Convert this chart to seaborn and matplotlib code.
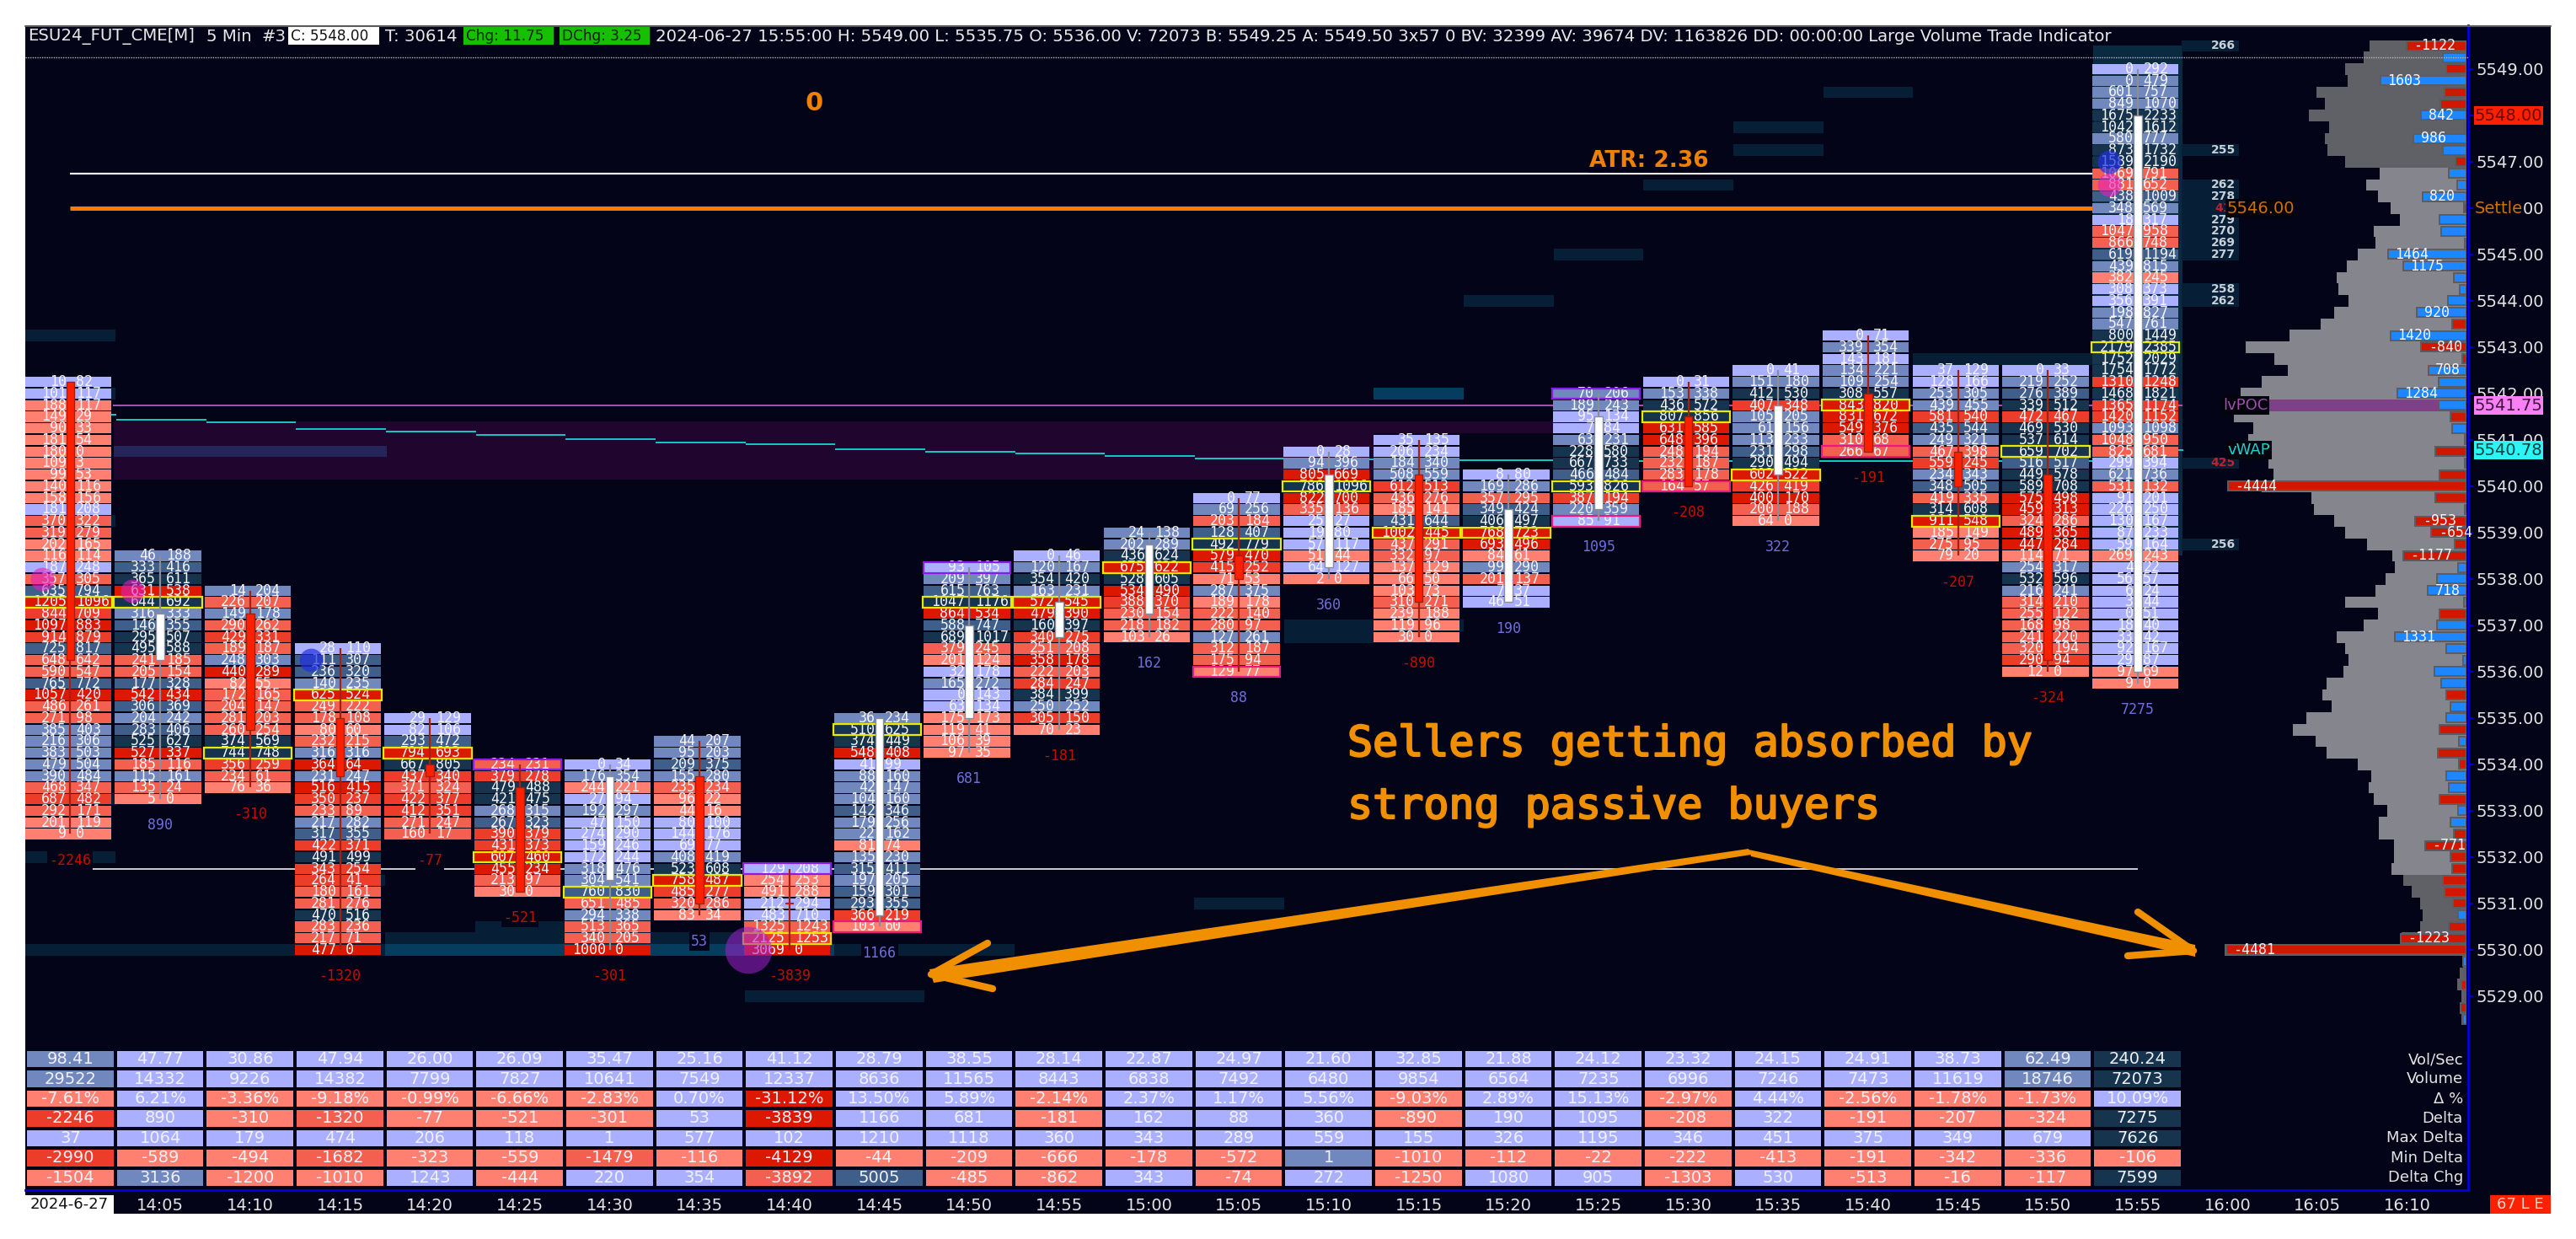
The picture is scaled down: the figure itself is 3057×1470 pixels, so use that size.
import bisect

import matplotlib
matplotlib.use("Agg")
import matplotlib.patheffects as pe
import matplotlib.pyplot as plt
import pandas as pd
import seaborn as sns
from matplotlib.colors import ListedColormap
from matplotlib.patches import Polygon

sns.set_theme(style="white")
plt.rcParams["font.family"] = ["DejaVu Sans"]
plt.rcParams["patch.force_edgecolor"] = False
plt.rcParams["patch.linewidth"] = 0

W, H = 3057, 1470
BG = "#040418"
MONO = "DejaVu Sans Mono"

# time axis
time_labels = ["14:00", "14:05", "14:10", "14:15", "14:20", "14:25", "14:30", "14:35", "14:40", "14:45",
               "14:50", "14:55", "15:00", "15:05", "15:10", "15:15", "15:20", "15:25", "15:30", "15:35",
               "15:40", "15:45", "15:50", "15:55", "16:00", "16:05", "16:10"]

# footprint: highest price of each bar, then bid / ask from the top row down
bar_high = [5542.25, 5538.5, 5537.75, 5536.5, 5535.0, 5534.0, 5534.0, 5534.5, 5531.75, 5535.0, 5538.25, 5538.5,
            5539.0, 5539.75, 5540.75, 5541.0, 5540.25, 5542.0, 5542.25, 5542.5, 5543.25, 5542.5, 5542.5, 5549.0]
bar_open = [5542.25, 5536.25, 5537.25, 5535.0, 5534.0, 5533.5, 5531.5, 5533.75, 5531.0, 5530.75, 5535.0, 5536.75,
            5537.25, 5538.5, 5538.25, 5540.25, 5537.5, 5539.5, 5541.5, 5540.25, 5542.0, 5540.75, 5540.25, 5536.0]
bar_close = [5536.25, 5537.25, 5534.75, 5533.75, 5533.75, 5531.25, 5533.75, 5531.0, 5531.0, 5535.0, 5537.0, 5537.5,
             5538.75, 5538.0, 5540.25, 5537.5, 5539.5, 5541.5, 5540.0, 5541.75, 5540.75, 5540.0, 5536.25, 5548.0]

bid_volume = [
    [10, 101, 188, 149, 90, 181, 180, 109, 99, 140, 158, 181, 370, 319, 202, 116, 187, 357, 635, 1205, 844, 1097, 914, 725, 648, 590, 765, 1057, 486, 271, 385, 216, 383, 479, 390, 468, 687, 292, 201, 9],
    [46, 333, 365, 631, 644, 316, 146, 295, 495, 241, 205, 177, 542, 306, 204, 283, 525, 527, 185, 115, 135, 5],
    [14, 226, 149, 290, 429, 189, 248, 440, 82, 172, 204, 281, 260, 374, 744, 356, 234, 76],
    [28, 111, 236, 140, 625, 249, 178, 80, 232, 316, 364, 231, 516, 350, 233, 217, 317, 422, 491, 343, 264, 180, 281, 470, 283, 217, 477],
    [29, 82, 293, 794, 667, 437, 371, 422, 412, 271, 160],
    [234, 379, 479, 421, 268, 267, 390, 431, 607, 455, 213, 30],
    [0, 176, 244, 27, 192, 47, 274, 159, 172, 318, 304, 760, 651, 294, 513, 340, 1000],
    [44, 95, 209, 155, 235, 96, 44, 80, 144, 69, 408, 523, 758, 485, 320, 83],
    [129, 254, 491, 212, 483, 1325, 2125, 3069],
    [36, 510, 374, 548, 41, 88, 42, 104, 142, 179, 22, 81, 135, 315, 197, 159, 293, 366, 103],
    [93, 209, 615, 1047, 864, 588, 689, 379, 201, 32, 165, 0, 63, 175, 119, 106, 97],
    [0, 120, 354, 163, 572, 479, 160, 340, 251, 358, 222, 284, 384, 250, 305, 70],
    [24, 202, 436, 675, 528, 534, 388, 230, 218, 103],
    [0, 69, 203, 128, 492, 579, 415, 71, 287, 189, 222, 280, 127, 312, 175, 129],
    [0, 94, 805, 786, 822, 335, 25, 19, 57, 51, 64, 2],
    [35, 206, 184, 508, 612, 436, 185, 431, 1002, 437, 332, 137, 66, 103, 310, 239, 119, 30],
    [8, 169, 357, 349, 406, 768, 693, 84, 99, 201, 7, 46],
    [70, 189, 95, 7, 63, 228, 667, 466, 593, 387, 220, 85],
    [0, 153, 436, 807, 631, 648, 248, 232, 283, 164],
    [0, 151, 412, 407, 105, 61, 113, 231, 290, 602, 426, 400, 200, 64],
    [0, 339, 143, 134, 109, 308, 843, 831, 549, 310, 266],
    [37, 128, 253, 439, 581, 435, 249, 467, 559, 234, 348, 419, 314, 911, 185, 275, 79],
    [0, 219, 276, 339, 472, 469, 537, 659, 516, 449, 589, 575, 459, 324, 489, 447, 114, 254, 532, 216, 314, 255, 168, 241, 320, 290, 12],
    [0, 0, 601, 849, 1675, 1042, 580, 873, 1589, 1069, 881, 438, 348, 18, 1047, 866, 619, 439, 382, 308, 356, 198, 547, 800, 2179, 1752, 1754, 1310, 1468, 1365, 1420, 1093, 1048, 825, 299, 621, 531, 91, 226, 130, 87, 59, 269, 4, 56, 6, 3, 0, 18, 33, 92, 29, 97, 9],
]
ask_volume = [
    [82, 117, 117, 29, 33, 54, 0, 3, 53, 116, 156, 208, 322, 279, 165, 114, 248, 305, 794, 1096, 709, 883, 879, 817, 642, 547, 772, 420, 261, 98, 403, 306, 503, 504, 484, 347, 482, 171, 119, 0],
    [188, 416, 611, 538, 692, 333, 355, 507, 588, 185, 154, 328, 434, 369, 242, 406, 627, 337, 116, 161, 24, 0],
    [204, 207, 178, 262, 331, 187, 303, 289, 55, 165, 147, 203, 254, 569, 748, 259, 61, 36],
    [110, 307, 320, 235, 524, 222, 108, 60, 215, 316, 64, 247, 415, 237, 89, 282, 355, 371, 499, 254, 41, 161, 276, 516, 236, 71, 0],
    [129, 106, 472, 693, 805, 340, 324, 377, 351, 247, 17],
    [231, 278, 488, 475, 315, 323, 379, 373, 460, 234, 97, 0],
    [34, 354, 221, 94, 297, 150, 290, 246, 244, 476, 541, 830, 485, 338, 365, 205, 0],
    [207, 203, 375, 280, 234, 22, 16, 100, 176, 77, 419, 608, 487, 277, 286, 34],
    [208, 253, 288, 294, 710, 1243, 1253, 0],
    [234, 625, 449, 408, 99, 160, 147, 160, 346, 256, 162, 74, 230, 411, 205, 301, 355, 219, 60],
    [105, 397, 763, 1176, 534, 747, 1017, 245, 124, 178, 272, 143, 134, 173, 41, 39, 35],
    [46, 167, 420, 231, 545, 390, 397, 275, 208, 178, 203, 247, 399, 252, 150, 23],
    [138, 289, 624, 622, 605, 490, 370, 154, 182, 26],
    [77, 256, 184, 407, 779, 470, 252, 53, 375, 178, 140, 97, 261, 187, 94, 77],
    [28, 396, 669, 1096, 700, 136, 27, 80, 117, 44, 127, 0],
    [135, 234, 340, 559, 513, 276, 141, 644, 445, 291, 97, 129, 50, 73, 271, 188, 96, 0],
    [80, 286, 295, 424, 497, 723, 496, 61, 290, 137, 37, 51],
    [206, 243, 134, 84, 231, 580, 733, 484, 826, 194, 359, 91],
    [31, 338, 572, 856, 585, 396, 194, 187, 178, 57],
    [41, 180, 530, 348, 205, 156, 233, 298, 494, 522, 419, 170, 188, 0],
    [71, 354, 181, 221, 254, 557, 820, 672, 376, 68, 67],
    [129, 166, 305, 455, 540, 544, 321, 398, 245, 343, 505, 335, 608, 548, 149, 95, 20],
    [33, 252, 389, 512, 467, 530, 614, 702, 517, 578, 708, 498, 313, 286, 365, 284, 71, 317, 596, 241, 210, 122, 98, 220, 194, 94, 0],
    [292, 479, 757, 1070, 2233, 1612, 777, 1732, 2190, 791, 652, 1009, 569, 317, 958, 748, 1194, 815, 245, 373, 391, 827, 761, 1449, 2385, 2029, 1772, 1248, 1821, 1174, 1152, 1098, 950, 681, 394, 736, 132, 201, 250, 167, 233, 164, 243, 22, 57, 24, 44, 51, 40, 42, 167, 87, 69, 0],
]
high_box_bars = [5, 8, 10, 17]
low_box_bars = [9, 13, 17, 18, 20]

# lines
atr_price = 5546.75
settle_price = 5546.0
lower_price = 5531.75
lvpoc_price = 5541.75
vwap_price = [5541.55, 5541.44, 5541.38, 5541.24, 5541.18, 5541.1, 5541.02, 5540.95, 5540.9, 5540.8, 5540.75, 5540.7,
              5540.65, 5540.6, 5540.58, 5540.56, 5540.56, 5540.55, 5540.55, 5540.55, 5540.55, 5540.55, 5540.55, 5540.78]

# large volume heat rows: first bar, last bar, price, strength
heat_first = [0, 0, 0, 0, 0, 3, 5, 4, 0, 4, 9, 8, 13, 14, 14, 15, 16, 17, 18, 19, 19, 20, 21]
heat_last = [0, 0, 0, 0, 0, 3, 5, 7, 3, 8, 10, 9, 13, 14, 15, 15, 16, 17, 18, 19, 19, 20, 22]
heat_price = [5543.25, 5542.0, 5539.25, 5533.25, 5532.0, 5531.5, 5530.5, 5530.25, 5530.0, 5530.0, 5530.0, 5529.0, 5531.0,
              5536.75, 5537.0, 5542.0, 5544.0, 5545.0, 5546.5, 5547.75, 5547.25, 5548.5, 5542.75]
heat_level = [0, 0, 0, 0, 0, 0, 0, 0, 0, 1, 0, 0, 0, 0, 0, 1, 0, 0, 0, 0, 0, 0, 0]

# numbers to the right of the last bar
side_price = [5549.5, 5547.25, 5546.5, 5546.25, 5546.0, 5545.75, 5545.5, 5545.25, 5545.0, 5544.25, 5544.0, 5540.5, 5538.75]
side_value = [266, 255, 262, 278, 41, 279, 270, 269, 277, 258, 262, 425, 256]
side_sell = [41, 425]

# bubbles
pink_x = [-0.31, 0.69, 22.68]
pink_price = [5538.0, 5537.75, 5546.5]
blue_x = [2.68, 22.68]
blue_price = [5536.25, 5547.0]
purple_x = [7.54]
purple_price = [5530.0]

# volume profile, from 5549.50 down in quarter points
profile_top = 5549.5
profile_vol = [2960, 3160, 3730, 3650, 4610, 4330, 4820, 4220, 4330, 4260, 3730,
               2670, 3080, 2720, 2320, 2030, 2830, 2800, 3330, 3680, 3980, 3930, 3610, 4060, 4460, 5430, 6770, 5880, 5480, 6280, 6930,
               7430, 7130, 6530, 6700, 6080, 6080, 5920, 6280, 4750, 4680, 4060, 3730, 3050, 2270, 2200, 2480, 2800, 3730, 2720, 3160,
               3980, 3730, 3620, 3770, 4300, 4420, 4130, 4910, 5320, 4620, 4300, 3330, 2930, 3000, 2840, 2430, 2680, 2680, 2230, 2230, 2310,
               1950, 1670, 1420, 1340, 1420, 1980, 7410, 110, 210, 280, 150, 200, 150]
profile_delta = [-1122, 444, -371, 1603, -401, -492, 842, -30, 986, 444, -200,
                 322, 176, 820, -49, 498, 474, 36, 1464, 1175, 231, 128, 353, 920, -274, 1420, -840, -79, 708, 523, 1284,
                 523, -292, 274, 36, -578, 36, -499, -4444, -578, 36, -953, -654, -213, -1177, 158, 547, 718, 43, -499, 547,
                 1331, 377, 55, 602, 474, -377, 304, 377, -499, 134, -529, -134, 377, 328, -499, 158, 304, -231, -771, -304, -274,
                 -444, -401, -249, 158, -322, -1223, -4481, 55, -36, -97, -36, -109, 55]

# bottom table
vol_sec = [98.41, 47.77, 30.86, 47.94, 26.00, 26.09, 35.47, 25.16, 41.12, 28.79, 38.55, 28.14, 22.87, 24.97, 21.60, 32.85, 21.88, 24.12, 23.32, 24.15, 24.91, 38.73, 62.49, 240.24]
volume = [29522, 14332, 9226, 14382, 7799, 7827, 10641, 7549, 12337, 8636, 11565, 8443, 6838, 7492, 6480, 9854, 6564, 7235, 6996, 7246, 7473, 11619, 18746, 72073]
delta_pct = [-7.61, 6.21, -3.36, -9.18, -0.99, -6.66, -2.83, 0.70, -31.12, 13.50, 5.89, -2.14, 2.37, 1.17, 5.56, -9.03, 2.89, 15.13, -2.97, 4.44, -2.56, -1.78, -1.73, 10.09]
delta = [-2246, 890, -310, -1320, -77, -521, -301, 53, -3839, 1166, 681, -181, 162, 88, 360, -890, 190, 1095, -208, 322, -191, -207, -324, 7275]
max_delta = [37, 1064, 179, 474, 206, 118, 1, 577, 102, 1210, 1118, 360, 343, 289, 559, 155, 326, 1195, 346, 451, 375, 349, 679, 7626]
min_delta = [-2990, -589, -494, -1682, -323, -559, -1479, -116, -4129, -44, -209, -666, -178, -572, 1, -1010, -112, -22, -222, -413, -191, -342, -336, -106]
delta_chg = [-1504, 3136, -1200, -1010, 1243, -444, 220, 354, -3892, 5005, -485, -862, 343, -74, 272, -1250, 1080, 905, -1303, 530, -513, -16, -117, 7599]

RED = ["#DC1800", "#EC3D2B", "#F46050", "#FF8070"]
BLUE = ["#AAB0FF", "#7088BE", "#3F5F8A", "#16344E"]
PALETTE = RED + [BG] + BLUE


def px_axes(left, top, right, bottom, z):
    ax = fig.add_axes([left / W, 1 - bottom / H, (right - left) / W, (bottom - top) / H], zorder=z)
    ax.patch.set_alpha(0)
    return ax


def level(value, cuts_up, cuts_down):
    if value >= 0:
        return bisect.bisect(cuts_up, value) + 1
    return -(bisect.bisect(cuts_down, -value) + 1)


def cell_color(bid, ask, top):
    # darker the heavier the row is compared with the heaviest row of its bar
    score = (bid + ask + 2 * abs(ask - bid)) / top
    n = bisect.bisect([0.22, 0.5, 0.68], score)
    if ask >= bid:
        return BLUE[n]
    return RED[3 - n]


fig = plt.figure(figsize=(W / 100, H / 100), dpi=100, facecolor="white")
ax_panel = px_axes(30, 30, 3027, 1440, 0)
ax_panel.patch.set_alpha(1)
ax_panel.set_facecolor(BG)
ax_panel.set_xticks([])
ax_panel.set_yticks([])
for s in ax_panel.spines.values():
    s.set_visible(False)

# main price pane
ax = px_axes(30, 30, 2929, 1412, 2)
ax.set_xlim(-0.5015, 26.676)
ax.set_ylim(5524.818, 5549.945)

for first, last, price, lev in zip(heat_first, heat_last, heat_price, heat_level):
    ax.barh(price, last - first + 1, left=first - 0.5, height=0.25, color=["#061E36", "#063C5E"][lev], lw=0, zorder=1)
ax.barh(5544.0, 1.0, left=22.5, height=11.0, color="#0A2A42", lw=0, zorder=1)
ax.barh(side_price, 0.64, left=23.49, height=0.25, color="#061E36", lw=0, zorder=1)

# purple value band
ax.barh(5540.775, 14.02, left=0.48, height=1.25, color="#20052E", lw=0, zorder=1)
ax.barh(5541.275, 2.0, left=14.5, height=0.25, color="#20052E", lw=0, zorder=1)
ax.barh(5540.755, 3.04, left=0.48, height=0.23, color="#25255A", lw=0, zorder=1)

ax.hlines(atr_price, 0, 23, color="#F0F0F0", lw=1.6, zorder=2)
ax.hlines(settle_price, 0, 23, color="#F57C00", lw=3.6, zorder=2)
ax.hlines(lower_price, 0, 23, color="#F0F0F0", lw=1.2, zorder=2)
ax.hlines(lvpoc_price, 0.47, 23.5, color="#B050B0", lw=1.4, zorder=2)
for i, v in enumerate(vwap_price):
    ax.hlines(v, i - 0.49, i + 0.51, color="#18C8C8", lw=1.4, zorder=2)

for i in range(len(bar_high)):
    bids, asks = bid_volume[i], ask_volume[i]
    prices = [bar_high[i] - 0.25 * k for k in range(len(bids))]
    top = max(b + a + 2 * abs(a - b) for b, a in zip(bids, asks))
    colors = [cell_color(b, a, top) for b, a in zip(bids, asks)]
    ax.barh(prices, 0.961, left=i - 0.506, height=0.226, color=colors, lw=0, zorder=4)
    for p, b, a in zip(prices, bids, asks):
        ax.text(i - 0.045, p, str(b), ha="right", va="center", color="#F4F4FA", family=MONO, fontsize=12, zorder=5)
        ax.text(i + 0.06, p, str(a), ha="left", va="center", color="#F4F4FA", family=MONO, fontsize=12, zorder=5)
    # biggest row of the bar gets a yellow frame
    poc = max(range(len(bids)), key=lambda k: bids[k] + asks[k])
    ax.barh(prices[poc], 0.98, left=i - 0.515, height=0.235, fill=False, edgecolor="#E8E800", lw=1.6, zorder=5)
    if i in high_box_bars:
        ax.barh(prices[0], 0.97, left=i - 0.51, height=0.235, fill=False, edgecolor="#8A1BE8", lw=1.6, zorder=5)
    if i in low_box_bars:
        ax.barh(prices[-1], 0.97, left=i - 0.51, height=0.235, fill=False, edgecolor="#E81A82", lw=1.6, zorder=5)

    # candle
    up = bar_close[i] > bar_open[i]
    ax.vlines(i, prices[-1], prices[0], color="#8A8E98" if up else "#A82010", lw=1.6, zorder=6)
    lo, hi = min(bar_open[i], bar_close[i]), max(bar_open[i], bar_close[i])
    if hi == lo:
        ax.hlines(lo, i - 0.05, i + 0.05, color="#C02010", lw=1.6, zorder=6)
    else:
        ax.bar(i, hi - lo, bottom=lo, width=0.09, color="#FFFFFF" if up else "#FF2000",
               edgecolor="#8A9098" if up else "#A02010", lw=1.0, zorder=6)

    # delta under the bar
    ax.annotate(str(delta[i]), (i, prices[-1]), xytext=(0, -22.5), textcoords="offset points", ha="center", va="center",
                color="#6E6EDC" if delta[i] > 0 else "#C01000", family=MONO, fontsize=12, zorder=5,
                bbox=dict(facecolor=BG, edgecolor="none", pad=1.5))

for p, v in zip(side_price, side_value):
    sell = v in side_sell
    ax.text(23.95, p, str(v), ha="center", va="center", color="#C02030" if sell else "#C8D0D8",
            fontsize=10, fontweight="bold", zorder=5)

sns.scatterplot(x=pink_x, y=pink_price, s=400, color="#E020C0", alpha=0.6, linewidth=0, ax=ax, zorder=7)
sns.scatterplot(x=blue_x, y=blue_price, s=400, color="#2030E0", alpha=0.7, linewidth=0, ax=ax, zorder=7)
sns.scatterplot(x=purple_x, y=purple_price, s=1600, color="#A020D0", alpha=0.55, linewidth=0, ax=ax, zorder=7)

ax.set_xlim(-0.5015, 26.676)
ax.set_ylim(5524.818, 5549.945)
ax.grid(False)
for name in ["top", "left"]:
    ax.spines[name].set_visible(False)
for name in ["right", "bottom"]:
    ax.spines[name].set_color("#0000E0")
    ax.spines[name].set_linewidth(2.0)
ax.set_xticks(range(len(time_labels)))
ax.set_xticklabels(time_labels, color="#E4E4E4", fontsize=14)
ax.set_yticks(range(5529, 5550))
ax.set_yticklabels([f"{p:.2f}" for p in range(5529, 5550)], color="#E4E4E4", fontsize=14)
ax.yaxis.tick_right()
ax.tick_params(axis="x", direction="out", length=4, width=1.2, color="#0000E0", pad=2.5)
ax.tick_params(axis="y", direction="out", length=4, width=1.2, color="#0000E0", pad=3)

# volume profile with the delta bars on top of it
ax_prof = px_axes(2200, 30, 2927, 1412, 3)
prof_df = pd.DataFrame({"vol": profile_vol})
prof_df["price"] = [profile_top - 0.25 * k for k in range(len(profile_vol))]
prof_df["zone"] = ["outer" if p > 5546.875 or p < 5531.625 else "inner" for p in prof_df["price"]]
prof_df.loc[prof_df["price"] == lvpoc_price, "zone"] = "poc"
sns.barplot(data=prof_df, x="vol", y="price", hue="zone", orient="h", native_scale=True, dodge=False, width=1.0,
            palette={"outer": "#606166", "inner": "#84858D", "poc": "#804088"}, saturation=1, errorbar=None,
            legend=False, linewidth=0, edgecolor="none", ax=ax_prof)
ax_prof.set_xlim(727 * 25.83, 0)
ax_prof.set_ylim(5524.818, 5549.945)
ax_prof.axis("off")

ax_delta = px_axes(2200, 30, 2927, 1412, 4)
delta_df = pd.DataFrame({"size": [abs(v) for v in profile_delta]})
delta_df["price"] = [profile_top - 0.25 * k for k in range(len(profile_delta))]
delta_df["side"] = ["buy" if v > 0 else "sell" for v in profile_delta]
sns.barplot(data=delta_df, x="size", y="price", hue="side", orient="h", native_scale=True, dodge=False, width=0.8,
            palette={"buy": "#1E86FF", "sell": "#D01800"}, saturation=1, errorbar=None, legend=False,
            edgecolor="#5C5C60", linewidth=1.4, ax=ax_delta)
for k, v in enumerate(profile_delta):
    if abs(v) >= 650:
        ax_delta.annotate(str(v), (abs(v), delta_df["price"][k]), xytext=(6, 0), textcoords="offset points",
                          ha="left", va="center", color="#F4F4FA", family=MONO, fontsize=12)
ax_delta.set_xlim(727 / 0.0637, 0)
ax_delta.set_ylim(5524.818, 5549.945)
ax_delta.axis("off")

# bottom table, one heatmap row per statistic
table_rows = [("Vol/Sec", vol_sec, "{:.2f}", [50, 100, 200], [50, 100, 200]),
              ("Volume", volume, "{}", [15000, 30000, 60000], [15000, 30000, 60000]),
              ("Δ %", delta_pct, "{:.2f}%", [100, 200, 300], [10, 20, 30]),
              ("Delta", delta, "{}", [3000, 5000, 7000], [1300, 2000, 3500]),
              ("Max Delta", max_delta, "{}", [3000, 5000, 7000], [1300, 2000, 3500]),
              ("Min Delta", min_delta, "{}", [0.5, 5000, 7000], [1300, 2000, 3500]),
              ("Delta Chg", delta_chg, "{}", [3000, 5000, 7000], [2000, 4000, 6000])]
table_levels = pd.DataFrame([[level(v, r[3], r[4]) for v in r[1]] for r in table_rows])
table_text = pd.DataFrame([[r[2].format(v) for v in r[1]] for r in table_rows])

ax_table = px_axes(30.17, 1245, 2590, 1409, 5)
sns.heatmap(table_levels, annot=table_text, fmt="", cmap=ListedColormap(PALETTE), vmin=-4.5, vmax=4.5, cbar=False,
            linewidths=1.6, linecolor=BG, xticklabels=False, yticklabels=False, ax=ax_table,
            annot_kws=dict(color="#F0F0FA", fontsize=14))

# everything that sits in picture pixels
ax_px = px_axes(0, 0, W, H, 6)
ax_px.set_xlim(0, W)
ax_px.set_ylim(H, 0)
ax_px.axis("off")

ax_px.plot([30, 3027], [30.5, 30.5], color="#5A5A5A", lw=1.5)
ax_px.plot([30, 2929], [68, 68], color="#B8B8B8", lw=1, ls=(0, (1, 1)))


def header(x, text, color="#E8E8E8", size=14.2):
    ax_px.text(x, 43, text, ha="left", va="center", color=color, fontsize=size)


header(33, "ESU24_FUT_CME[M]")
header(245, "5 Min")
header(310, "#3")
ax_px.fill_between([342, 450], 32, 53, color="white", lw=0)
header(345, "C: 5548.00", color="#101010", size=12.2)
header(457, "T: 30614")
ax_px.fill_between([550, 657], 32, 53, color="#16C000", lw=0)
header(553, "Chg: 11.75", color="#062000", size=12.2)
ax_px.fill_between([664, 771], 32, 53, color="#16C000", lw=0)
header(667, "DChg: 3.25", color="#062000", size=12.2)
header(778, "2024-06-27 15:55:00 H: 5549.00 L: 5535.75 O: 5536.00 V: 72073 B: 5549.25 A: 5549.50 3x57 0 BV: 32399 "
            "AV: 39674 DV: 1163826 DD: 00:00:00 Large Volume Trade Indicator")

ax_px.text(966, 122, "0", ha="center", va="center", color="#F08000", fontsize=22, fontweight="bold")
ax_px.text(1886, 191, "ATR: 2.36", ha="left", va="center", color="#F08000", fontsize=19, fontweight="bold",
           bbox=dict(facecolor=BG, edgecolor="none", pad=1))
ax_px.text(2642, 247, "5546.00", ha="left", va="center", color="#D07000", fontsize=14,
           bbox=dict(facecolor="#04040C", edgecolor="none", pad=1))
ax_px.text(2638, 481, "lvPOC", ha="left", va="center", color="#A04FB0", fontsize=13,
           bbox=dict(facecolor="#04040C", edgecolor="none", pad=1.5))
ax_px.text(2643, 534, "vWAP", ha="left", va="center", color="#20D0D0", fontsize=13,
           bbox=dict(facecolor="#04040C", edgecolor="none", pad=1.5))
ax_px.text(2937, 247, "Settle", ha="left", va="center", color="#D07000", fontsize=14,
           bbox=dict(facecolor=BG, edgecolor="none", pad=1))

for y, label, face, ink in [(137, "5548.00", "#FF2000", "#6A0800"), (481, "5541.75", "#F97FF5", "#40103F"),
                            (534, "5540.78", "#2CF5F5", "#05403F")]:
    ax_px.fill_between([2936, 3018], y - 11, y + 11, color=face, lw=0)
    ax_px.text(2977, y, label, ha="center", va="center", color=ink, fontsize=14)

for y, row in zip([1257, 1280, 1304, 1327, 1350, 1374, 1397], table_rows):
    ax_px.text(2923, y, row[0], ha="right", va="center", color="#E4E4E4", fontsize=13)

# date cell and the corner tag
ax_px.fill_between([30, 135], 1418, 1440, color="white", lw=0)
ax_px.text(82.5, 1429, "2024-6-27", ha="center", va="center", color="#101010", fontsize=13)
ax_px.fill_between([2955, 3027], 1418, 1440, color="#FF2000", lw=0)
ax_px.text(2991, 1429, "67 L E", ha="center", va="center", color="#FFD8C8", fontsize=13)

# hand drawn note
ORANGE = "#F09000"
thick = [pe.withStroke(linewidth=1.6, foreground=ORANGE)]
ax_px.text(1599, 883, "Sellers getting absorbed by", ha="left", va="center", color=ORANGE, family=MONO, fontsize=36,
           path_effects=thick)
ax_px.text(1599, 957, "strong passive buyers", ha="left", va="center", color=ORANGE, family=MONO, fontsize=36,
           path_effects=thick)
ax_px.add_patch(Polygon([(1103, 1150), (2075, 1007), (2078, 1014), (1108, 1166)], color=ORANGE, lw=0))
ax_px.add_patch(Polygon([(2075, 1008), (2605, 1121), (2605, 1135), (2078, 1016)], color=ORANGE, lw=0))
for pts in [[(1172, 1119), (1105, 1156), (1178, 1173)], [(2537, 1082), (2603, 1128), (2525, 1134)]]:
    ax_px.plot([p[0] for p in pts], [p[1] for p in pts], color=ORANGE, lw=6, solid_capstyle="round",
               solid_joinstyle="round")

fig.savefig("out.png", dpi=100, facecolor="white")
